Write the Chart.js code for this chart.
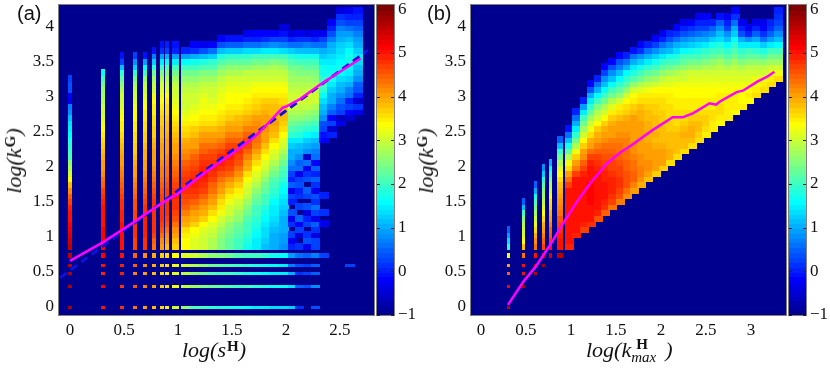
<!DOCTYPE html>
<html>
<head>
<meta charset="utf-8">
<script src="https://cdn.jsdelivr.net/npm/chart.js@4/dist/chart.umd.min.js"></script>
<style>
  body { margin: 0; background: #fff; width: 830px; height: 368px; overflow: hidden; position: relative; }
  canvas { position: absolute; top: 0; }
  .label { position: absolute; white-space: nowrap; font: italic 22px "Liberation Serif", serif; color: #111; }
  .label sup { font: bold 15px "Liberation Serif", serif; vertical-align: baseline; position: relative; top: -6px; line-height: 0; margin-left: 1px; }
  .label .pair { display: inline-block; position: relative; width: 34px; height: 1px; }
  .label .pair b { position: absolute; left: 5px; top: -20px; font: bold 15px "Liberation Serif", serif; }
  .label .pair i { position: absolute; left: 0; top: -7px; font: italic 15px "Liberation Serif", serif; }
  .panel { position: absolute; font: 20px "Liberation Sans", sans-serif; color: #111; }
  .rot { transform: translate(-50%, -50%) rotate(-90deg); }
</style>
</head>
<body>
<canvas id="heatA" width="375" height="368" style="left:0"></canvas>
<canvas id="heatB" width="375" height="368" style="left:412px"></canvas>
<canvas id="barA" width="66" height="368" style="left:376px"></canvas>
<canvas id="barB" width="66" height="368" style="left:788px"></canvas>
<div class="panel" style="left:17px;top:2px">(a)</div>
<div class="panel" style="left:427px;top:2px">(b)</div>
<div class="label" style="left:182px;top:337px">log(s<sup>H</sup>)</div>
<div class="label" style="left:586px;top:337px">log(k<span class="pair"><b>H</b><i>max</i></span>)</div>
<div class="label rot" style="left:14px;top:161px">log(k<sup>G</sup>)</div>
<div class="label rot" style="left:426px;top:161px">log(k<sup>G</sup>)</div>
<script>
const xTicksA = [0, 0.5, 1, 1.5, 2, 2.5];
const xTicksB = [0, 0.5, 1, 1.5, 2, 2.5, 3];
const yTicks = [0, 0.5, 1, 1.5, 2, 2.5, 3, 3.5, 4];
const barTicks = [-1, 0, 1, 2, 3, 4, 5, 6];

// colourbar steps
const barLevels = [-0.94, -0.83, -0.72, -0.61, -0.5, -0.39, -0.28, -0.17, -0.06, 0.05, 0.16, 0.28, 0.39, 0.5, 0.61, 0.72,
  0.83, 0.94, 1.05, 1.16, 1.27, 1.38, 1.49, 1.61, 1.72, 1.83, 1.94, 2.05, 2.16, 2.27, 2.38, 2.49,
  2.6, 2.72, 2.83, 2.94, 3.05, 3.16, 3.27, 3.38, 3.49, 3.6, 3.71, 3.82, 3.94, 4.05, 4.16, 4.27,
  4.38, 4.49, 4.6, 4.71, 4.82, 4.93, 5.05, 5.16, 5.27, 5.38, 5.49, 5.6, 5.71, 5.82, 5.93, 6.05];

// y of the heat rows, upper part of both panels
const yRows = [0.87, 0.95, 1.03, 1.11, 1.19, 1.27, 1.35, 1.43, 1.51, 1.59, 1.67, 1.75, 1.83, 1.91, 1.99, 2.07, 2.15, 2.23, 2.31, 2.39, 2.47, 2.55,
  2.63, 2.71, 2.79, 2.87, 2.95, 3.03, 3.11, 3.19, 3.27, 3.35, 3.43, 3.51, 3.59, 3.67, 3.75, 3.83, 3.91, 3.99, 4.07, 4.15, 4.23];
const lowRowY = [0, 0.3, 0.48, 0.6, 0.735];
const lowRowH = [0.043, 0.043, 0.043, 0.043, 0.072];

// panel (a): x bins, first row index of each column, values x10 (log count), bottom to top
const xBinsA = [[-0.018, 0.018], [0.283, 0.319], [0.46, 0.495], [0.585, 0.62], [0.68, 0.715], [0.76, 0.795], [0.83, 0.865], [0.885, 0.92], [0.944, 1.006],
  [1.034, 1.116], [1.116, 1.198], [1.198, 1.28], [1.28, 1.362], [1.362, 1.444], [1.444, 1.526], [1.526, 1.608], [1.608, 1.69], [1.69, 1.772], [1.772, 1.854], [1.854, 1.938], [1.938, 2.02],
  [2.02, 2.092], [2.092, 2.165], [2.165, 2.238], [2.238, 2.31], [2.31, 2.39], [2.39, 2.47], [2.47, 2.55], [2.55, 2.63], [2.63, 2.71]];
const startA = [0, 0, 0, 0, 0, 0, 0, 0, 0, 0, 0, 0, 0, 0, 0, 0, 0, 0, 0, 0, 0, 0, 0, 0, 0, 4, 20, 22, 23, 24];
const heatA = [
  [56, 55, 54, 53, 52, 51, 50, 49, 47, 45, 42, 38, 34, 30, 28, 26, 22, 20, 19, 18, 16, 15, 14, 12, 8, 7, -3, -2, 4, 4, 3],
  [52, 52, 52, 52, 51, 51, 50, 50, 49, 48, 47, 45, 44, 42, 41, 40, 39, 38, 37, 36, 35, 34, 33, 32, 31, 30, 28, 27, 26, 24, 21, 16],
  [50, 50, 50, 50, 50, 49, 49, 48, 48, 47, 46, 45, 44, 43, 42, 41, 40, 39, 38, 37, 36, 35, 35, 34, 33, 32, 31, 30, 28, 26, 23, 19, 12, 3, -1],
  [47, 47, 48, 48, 48, 47, 47, 46, 46, 45, 44, 43, 42, 41, 40, 39, 38, 37, 37, 36, 36, 35, 35, 34, 34, 33, 32, 31, 29, 27, 24, 19, 13, 8, 3],
  [48, 48, 49, 49, 49, 49, 48, 48, 47, 46, 45, 44, 43, 42, 41, 40, 39, 39, 38, 37, 37, 36, 36, 35, 35, 34, 33, 32, 31, 29, 26, 21, 16, 9, -1],
  [44, 45, 47, 48, 48, 48, 48, 48, 48, 47, 46, 45, 44, 43, 42, 41, 40, 40, 39, 38, 37, 37, 36, 36, 35, 35, 34, 33, 31, 29, 27, 24, 19, 13, 7, -1],
  [41, 42, 44, 46, 47, 48, 48, 48, 47, 47, 46, 45, 44, 43, 43, 42, 41, 40, 40, 39, 38, 38, 37, 37, 36, 35, 34, 33, 32, 30, 28, 25, 21, 15, 9, 2, -1],
  [38, 40, 42, 44, 46, 47, 48, 48, 48, 47, 47, 46, 45, 44, 44, 43, 42, 41, 40, 40, 39, 38, 38, 37, 36, 36, 35, 34, 32, 30, 28, 25, 22, 16, 10, 3, 0],
  [37, 38, 40, 42, 44, 46, 47, 48, 48, 49, 48, 47, 46, 45, 44, 43, 42, 41, 40, 39, 38, 37, 36, 35, 34, 33, 32, 31, 30, 29, 27, 24, 21, 15, 9, 1, -1],
  [34, 34, 35, 36, 39, 41, 43, 45, 46, 47, 48, 48, 48, 47, 46, 45, 43, 42, 40, 39, 37, 36, 35, 33, 32, 31, 31, 30, 29, 28, 26, 24, 20, 16, 9, 1],
  [32, 32, 33, 34, 37, 39, 41, 43, 45, 47, 48, 49, 49, 48, 47, 46, 45, 43, 41, 40, 38, 37, 35, 34, 33, 32, 31, 30, 29, 28, 26, 24, 21, 17, 10, 2, -2],
  [30, 30, 31, 32, 34, 37, 39, 41, 43, 45, 47, 48, 49, 50, 49, 48, 47, 45, 44, 42, 40, 38, 36, 35, 34, 33, 33, 32, 30, 29, 27, 25, 22, 18, 12, 4, -3],
  [28, 28, 29, 30, 32, 34, 36, 38, 40, 42, 44, 45, 47, 48, 49, 48, 47, 46, 44, 42, 40, 38, 36, 35, 34, 33, 32, 31, 30, 29, 27, 25, 22, 19, 13, 6, -2],
  [25, 25, 26, 27, 29, 31, 33, 35, 36, 38, 40, 42, 44, 46, 48, 49, 49, 47, 45, 43, 41, 39, 37, 36, 35, 34, 33, 33, 32, 31, 29, 27, 25, 22, 18, 12, 4, -2],
  [23, 23, 24, 25, 26, 28, 30, 31, 33, 35, 37, 39, 42, 45, 47, 48, 49, 49, 47, 45, 43, 41, 39, 37, 36, 35, 34, 34, 33, 32, 30, 28, 26, 23, 19, 13, 5, -1],
  [20, 21, 22, 23, 24, 26, 27, 29, 31, 33, 35, 37, 39, 42, 44, 46, 47, 48, 47, 45, 43, 41, 39, 38, 36, 35, 34, 34, 33, 32, 30, 28, 26, 23, 19, 13, 5, -1],
  [17, 18, 19, 20, 21, 22, 24, 25, 27, 29, 31, 32, 34, 36, 39, 41, 43, 45, 47, 47, 45, 43, 41, 39, 37, 36, 35, 34, 33, 32, 31, 29, 26, 23, 19, 14, 6, 0, -3],
  [15, 15, 16, 17, 18, 19, 20, 21, 23, 24, 26, 28, 30, 32, 34, 36, 38, 41, 43, 44, 44, 43, 42, 40, 38, 37, 36, 35, 34, 33, 31, 29, 27, 24, 20, 14, 6, 1, -2],
  [12, 13, 14, 14, 15, 16, 17, 18, 20, 21, 23, 24, 26, 28, 30, 32, 34, 36, 38, 40, 41, 42, 41, 40, 39, 38, 37, 35, 34, 33, 31, 29, 27, 24, 20, 15, 7, 2, -2],
  [10, 11, 11, 12, 13, 14, 15, 15, 16, 18, 19, 21, 22, 24, 26, 28, 30, 32, 34, 36, 38, 39, 40, 39, 38, 38, 37, 35, 34, 33, 31, 29, 28, 25, 20, 15, 8, 3, -2],
  [8, 9, 9, 10, 11, 11, 12, 13, 14, 15, 16, 17, 19, 20, 22, 24, 26, 28, 30, 32, 34, 36, 37, 38, 38, 37, 36, 35, 34, 33, 31, 29, 27, 24, 20, 14, 7, 3, -1, -4],
  [0, -3, 3, -10, 2, -3, 4, -10, 1, 3, -3, 5, 1, 3, 6, 8, 10, 11, 13, 15, 19, 22, 24, 26, 28, 30, 30, 30, 29, 28, 27, 26, 24, 22, 18, 13, 6, 1, -4],
  [2, -10, -4, 3, -2, 5, -10, 3, -10, 2, 0, 4, 3, -3, 6, 5, 8, 11, 12, 15, 18, 21, 23, 26, 28, 29, 30, 30, 29, 28, 27, 25, 24, 21, 17, 12, 6, 2, -3],
  [-3, 4, 2, -10, 3, 1, -4, 4, -10, 3, 5, -10, 4, 2, -3, 6, -5, 8, 11, 13, 16, 19, 22, 25, 27, 29, 30, 30, 29, 28, 27, 25, 23, 21, 17, 12, 7, 2, -4],
  [3, 3, -4, 2, 5, -3, 3, 6, 2, 4, -3, 2, 5, 1, 5, -2, 6, 7, 9, 12, 15, 18, 21, 24, 26, 28, 30, 30, 29, 28, 26, 25, 23, 21, 17, 12, 6, 1, -3],
  [-3, -10, 2, -10, -10, 1, -10, -10, -10, -10, -10, -10, -10, -10, -10, -2, -1, 3, 4, 8, 10, 12, 14, 16, 19, 20, 19, 17, 17, 15, 13, 10, 6, 3, -3],
  [0, -5, 3, -2, 5, 7, 10, 11, 13, 15, 17, 17, 16, 15, 14, 12, 10, 7, 4, 1, -2],
  [-3, -6, 3, 4, 6, 8, 10, 12, 14, 16, 17, 16, 15, 14, 13, 11, 9, 7, 4, 2, -4],
  [-5, -2, 3, 1, 6, 7, 10, 13, 15, 16, 17, 17, 16, 14, 12, 9, 6, 3, 0, -3],
  [-3, 2, -5, 1, 4, 5, 8, 10, 12, 14, 15, 13, 11, 9, 7, 5, 3, 1, -1]
];
const lowA = [
  [57, 50, 48, 44, 40, 38, 36, 35, 31, 26, 22, 20, 19, 18, 18, 17, 16, 15, 15, 14, 14, 13, 2, -10, 4],
  [57, 52, 48, 46, 43, 40, 37, 36, 33, 29, 27, 25, 24, 23, 22, 21, 20, 19, 18, 17, 16, 14, 5, 4, 8],
  [57, 49, 49, 43, 41, 38, 36, 35, 32, 29, 26, 24, 22, 21, 20, 19, 18, 17, 16, 15, 15, 11, 2, 3, 5],
  [56, 50, 49, 45, 42, 39, 37, 36, 33, 31, 28, 26, 24, 23, 22, 21, 19, 18, 17, 16, 15, 7, 4, 3, 5, -10, -10, -10, 3],
  [56, 52, 50, 45, 42, 39, 37, 36, 34, 32, 30, 28, 26, 25, 24, 22, 21, 20, 19, 17, 16, 9, 6, 5, 7, 3]
];
const lineAx = [0, 0.3, 0.48, 0.6, 0.7, 0.78, 0.85, 0.9, 1, 1.2, 1.325, 1.5, 1.71, 1.82, 1.97, 2.01, 2.13, 2.31, 2.5, 2.69];
const lineAy = [0.66, 0.92, 1.1, 1.22, 1.33, 1.41, 1.48, 1.53, 1.62, 1.86, 2, 2.19, 2.43, 2.6, 2.85, 2.87, 2.97, 3.17, 3.36, 3.55];
const dashAx = [-0.09, 2.76];
const dashAy = [0.42, 3.67];

// panel (b)
const xBinsB = [[0.283, 0.319], [0.46, 0.495], [0.585, 0.62], [0.68, 0.715], [0.76, 0.795], [0.84, 0.905],
  [0.945, 1.025], [1.025, 1.105], [1.105, 1.185], [1.185, 1.265], [1.265, 1.345], [1.345, 1.425], [1.425, 1.505], [1.505, 1.585], [1.585, 1.665], [1.665, 1.745],
  [1.745, 1.825], [1.825, 1.905], [1.905, 1.985], [1.985, 2.065], [2.065, 2.145], [2.145, 2.225], [2.225, 2.305], [2.305, 2.385], [2.385, 2.465], [2.465, 2.545],
  [2.545, 2.625], [2.625, 2.705], [2.705, 2.785], [2.785, 2.865], [2.865, 2.945], [2.945, 3.025], [3.025, 3.105], [3.105, 3.185], [3.185, 3.265], [3.265, 3.345]];
const startB = [0, 0, 0, 0, 0, 0, 0, 2, 3, 4, 5, 6, 7, 8, 9, 10, 11, 12, 13, 14, 15, 16, 17, 18, 19, 20, 21, 22, 23, 24, 25, 26, 27, 28, 29, 30];
const heatB = [
  [19, 14, 9, 5],
  [38, 34, 32, 30, 28, 25, 20, 12, 5],
  [44, 42, 39, 36, 33, 30, 27, 24, 20, 17, 11, 5],
  [47, 45, 43, 41, 39, 36, 34, 32, 29, 27, 25, 22, 18, 13, 8],
  [50, 48, 46, 45, 43, 41, 39, 37, 36, 34, 31, 28, 25, 21, 16, 10],
  [50, 50, 49, 48, 47, 46, 44, 43, 42, 41, 39, 38, 36, 34, 32, 28, 24, 19, 12, 5],
  [49, 50, 50, 51, 51, 51, 51, 51, 51, 50, 50, 47, 44, 40, 36, 33, 28, 23, 17, 12, 6, -1],
  [49, 50, 50, 51, 51, 51, 51, 51, 51, 51, 50, 47, 43, 40, 37, 33, 28, 24, 19, 15, 10, 6, 0],
  [47, 49, 50, 50, 51, 51, 51, 51, 50, 50, 49, 47, 45, 42, 40, 37, 34, 31, 27, 24, 20, 15, 9, 1],
  [48, 50, 51, 51, 52, 52, 52, 52, 51, 51, 50, 49, 47, 44, 41, 39, 36, 33, 30, 27, 23, 19, 15, 10, 4, -2],
  [46, 49, 50, 50, 51, 51, 50, 50, 50, 49, 48, 47, 45, 43, 41, 39, 37, 34, 31, 28, 25, 20, 16, 11, 6, 0],
  [45, 48, 49, 50, 50, 50, 49, 49, 48, 47, 46, 45, 44, 42, 40, 39, 37, 34, 31, 28, 24, 20, 16, 12, 8, 3, -2],
  [44, 47, 48, 49, 49, 49, 48, 47, 47, 46, 45, 44, 43, 41, 40, 39, 37, 35, 32, 28, 24, 20, 16, 12, 8, 4, -2],
  [43, 46, 47, 48, 48, 47, 47, 46, 45, 44, 44, 43, 42, 41, 40, 38, 36, 35, 31, 26, 23, 19, 16, 12, 7, 4, -2],
  [42, 44, 46, 46, 46, 45, 45, 44, 44, 43, 43, 42, 41, 40, 39, 37, 36, 34, 30, 26, 22, 19, 16, 11, 6, 0],
  [40, 43, 45, 45, 44, 44, 43, 42, 42, 41, 41, 41, 40, 40, 38, 37, 35, 34, 30, 26, 22, 18, 15, 10, 6, -1],
  [39, 42, 43, 43, 42, 42, 41, 41, 40, 40, 40, 40, 39, 39, 38, 36, 35, 32, 28, 24, 20, 17, 13, 8, 2, -2],
  [38, 41, 42, 42, 41, 40, 40, 39, 39, 39, 39, 38, 38, 37, 36, 35, 33, 29, 26, 23, 19, 15, 11, 6, 0],
  [37, 40, 41, 41, 40, 39, 38, 39, 38, 38, 38, 37, 37, 36, 35, 34, 31, 27, 24, 21, 17, 13, 8, 3, -2],
  [37, 40, 40, 40, 39, 38, 38, 38, 37, 37, 37, 36, 36, 35, 34, 32, 29, 26, 23, 19, 15, 10, 6, 1, -3],
  [36, 39, 39, 38, 38, 38, 37, 37, 36, 36, 36, 35, 35, 34, 32, 30, 27, 24, 20, 17, 12, 8, 4, 0],
  [36, 38, 38, 38, 38, 37, 36, 36, 36, 35, 35, 34, 34, 33, 31, 28, 25, 21, 18, 14, 10, 6, 2, -2],
  [36, 38, 38, 39, 38, 37, 36, 36, 35, 35, 34, 34, 33, 31, 29, 26, 23, 20, 16, 12, 8, 4, 1, -3],
  [36, 38, 39, 39, 38, 37, 36, 35, 35, 34, 34, 33, 32, 30, 27, 24, 21, 17, 13, 9, 5, 2, -2],
  [36, 37, 38, 38, 37, 36, 35, 35, 34, 34, 33, 32, 30, 27, 24, 21, 18, 14, 10, 6, 3, 0, -3],
  [35, 36, 37, 37, 36, 35, 35, 34, 34, 33, 32, 30, 28, 25, 22, 19, 15, 11, 7, 3, 0, -2],
  [35, 35, 36, 36, 35, 35, 34, 34, 33, 32, 30, 28, 26, 23, 20, 17, 13, 8, 5, 0],
  [34, 35, 36, 36, 35, 35, 34, 33, 32, 31, 29, 27, 24, 21, 18, 14, 12, 8, 5, -1],
  [35, 35, 35, 35, 35, 34, 33, 32, 30, 28, 25, 22, 19, 16, 12, 8, 3, 0, -3],
  [34, 35, 35, 35, 34, 33, 32, 31, 29, 27, 24, 22, 19, 16, 13, 10, 6, 2, -2],
  [35, 34, 34, 34, 33, 32, 31, 28, 25, 22, 19, 15, 10, 4, 0, -3],
  [34, 35, 34, 33, 32, 31, 29, 26, 23, 20, 15, 8, 1, -3],
  [36, 35, 34, 33, 31, 29, 26, 23, 19, 15, 10, 5, 0, -3],
  [36, 35, 33, 31, 29, 26, 22, 18, 13, 6, 2, -2, -3],
  [36, 35, 32, 30, 27, 24, 20, 15, 9, 5, 2, 0],
  [36, 33, 30, 27, 24, 20, 16, 12, 8, 5, 3, 2, 0]
];
const lowB = [
  [56],
  [52, 57],
  [45, 50, 56],
  [40, 51, 55, 57],
  [33, 44, 51, 55, 55, 56]
];
const lineBx = [0.3, 0.47, 0.61, 0.79, 0.91, 1.07, 1.21, 1.4, 1.54, 1.66, 1.91, 2.13, 2.24, 2.36, 2.54, 2.61, 2.66, 2.84, 2.91, 3.07, 3.18, 3.26];
const lineBy = [0.03, 0.36, 0.58, 0.93, 1.19, 1.51, 1.76, 2.05, 2.2, 2.3, 2.53, 2.71, 2.71, 2.77, 2.91, 2.89, 2.94, 3.07, 3.09, 3.22, 3.29, 3.36];

Chart.defaults.font.family = '"Liberation Serif", serif';

const tickFont = { family: '"Liberation Serif", serif', size: 17 };
const tickColor = "#111";
const frameColor = "#808080";

// MATLAB jet with 64 steps, -1 to 6.1
function jet(v) {
  const idx = Math.min(63, Math.max(0, Math.floor(((v + 1) / 7.1) * 64)));
  const t = (idx + 1) / 64;
  const c = (x) => Math.round(255 * Math.min(1, Math.max(0, x)));
  const r = c(Math.min(4 * t - 1.5, -4 * t + 4.5));
  const g = c(Math.min(4 * t - 0.5, -4 * t + 3.5));
  const b = c(Math.min(4 * t + 0.5, -4 * t + 2.5));
  return `rgb(${r},${g},${b})`;
}

const cellImages = {};

function cellImage(color, w, h) {
  const key = `${color}|${w}|${h}`;
  if (!cellImages[key]) {
    const c = document.createElement("canvas");
    c.width = w;
    c.height = h;
    const g = c.getContext("2d");
    g.fillStyle = color;
    g.fillRect(0, 0, w, h);
    cellImages[key] = c;
  }
  return cellImages[key];
}

// scripted point style: every cell is a point, sized from the scales
function cellStyle(ctx) {
  const cell = ctx.raw;
  if (!cell) {
    return "rect";
  }
  const { x, y } = ctx.chart.scales;
  const w = Math.abs(x.getPixelForValue(cell.x + cell.w / 2) - x.getPixelForValue(cell.x - cell.w / 2));
  const h = Math.abs(y.getPixelForValue(cell.y + cell.h / 2) - y.getPixelForValue(cell.y - cell.h / 2));
  const pw = w > 7 ? Math.ceil(w) + 1 : Math.round(w);
  const ph = h > 5.5 ? Math.ceil(h) + 1 : Math.round(h);
  return cellImage(jet(cell.v), pw, ph);
}

function buildCells(bins, starts, cols, lows) {
  const cells = [];
  cols.forEach((col, c) => {
    const [lo, hi] = bins[c];
    col.forEach((v, i) => {
      if (v > -10) {
        cells.push({ x: (lo + hi) / 2, y: yRows[starts[c] + i], v: v / 10, w: hi - lo, h: 0.08 });
      }
    });
  });
  lows.forEach((row, r) => {
    row.forEach((v, c) => {
      if (v > -10) {
        const [lo, hi] = bins[c];
        cells.push({ x: (lo + hi) / 2, y: lowRowY[r], v: v / 10, w: hi - lo, h: lowRowH[r] });
      }
    });
  });
  return cells;
}

const framePlugin = {
  id: "frame",
  beforeDatasetsDraw(chart) {
    const { ctx, chartArea: a } = chart;
    ctx.imageSmoothingEnabled = false;
    ctx.save();
    ctx.fillStyle = jet(-1);
    ctx.fillRect(a.left, a.top, a.right - a.left, a.bottom - a.top);
    ctx.restore();
  },
  afterDatasetsDraw(chart) {
    const { ctx, chartArea: a } = chart;
    ctx.save();
    ctx.strokeStyle = frameColor;
    ctx.lineWidth = 1;
    ctx.strokeRect(a.left - 0.5, a.top - 0.5, a.right - a.left + 1, a.bottom - a.top + 1);
    ctx.restore();
  },
};

const barTickPlugin = {
  id: "barTicks",
  afterDatasetsDraw(chart) {
    const { ctx, chartArea: a, scales } = chart;
    ctx.save();
    ctx.strokeStyle = "#222";
    ctx.lineWidth = 1;
    barTicks.forEach((v) => {
      const py = Math.round(scales.y.getPixelForValue(v)) + 0.5;
      ctx.beginPath();
      ctx.moveTo(a.left, py);
      ctx.lineTo(a.left + 3, py);
      ctx.moveTo(a.right - 3, py);
      ctx.lineTo(a.right, py);
      ctx.stroke();
    });
    ctx.restore();
  },
};

function xyPoints(xs, ys) {
  return xs.map((x, i) => ({ x, y: ys[i] }));
}

function heatChart(id, opts) {
  const datasets = [];
  datasets.push({
    label: "mean",
    data: xyPoints(opts.lineX, opts.lineY),
    showLine: true,
    borderColor: "#ff00ff",
    borderWidth: 2.5,
    pointRadius: 0,
    order: 1,
  });
  if (opts.dashX) {
    datasets.push({
      label: "fit",
      data: xyPoints(opts.dashX, opts.dashY),
      showLine: true,
      borderColor: "#1010e0",
      borderWidth: 3,
      borderDash: [8, 5],
      pointRadius: 0,
      order: 2,
    });
  }
  datasets.push({
    label: "counts",
    data: opts.cells,
    pointStyle: cellStyle,
    pointRadius: 3,
    order: 3,
  });

  return new Chart(document.getElementById(id), {
    type: "scatter",
    data: { datasets },
    plugins: [framePlugin],
    options: {
      responsive: false,
      animation: false,
      events: [],
      layout: { autoPadding: false, padding: { top: 5, right: 1 } },
      plugins: { legend: { display: false }, tooltip: { enabled: false } },
      scales: {
        x: {
          type: "linear",
          min: opts.xMin,
          max: opts.xMax,
          grid: { display: false, drawTicks: false },
          border: { display: false },
          afterFit: (s) => { s.height = 53; s.paddingLeft = 0; s.paddingRight = 0; },
          afterBuildTicks: (s) => { s.ticks = opts.xTicks.map((value) => ({ value })); },
          ticks: {
            font: tickFont,
            color: tickColor,
            padding: 5,
            maxRotation: 0,
            autoSkip: false,
            callback: (v) => String(v),
          },
        },
        y: {
          type: "linear",
          min: -0.114,
          max: 4.314,
          grid: { display: false, drawTicks: false },
          border: { display: false },
          afterFit: (s) => { s.width = 59; s.paddingTop = 0; s.paddingBottom = 0; },
          afterBuildTicks: (s) => { s.ticks = yTicks.map((value) => ({ value })); },
          ticks: {
            font: tickFont,
            color: tickColor,
            padding: 5,
            autoSkip: false,
            callback: (v) => String(v),
          },
        },
      },
    },
  });
}

function colorBar(id) {
  const cells = barLevels.map((v) => ({ x: 0.5, y: v, v, w: 1, h: 0.13 }));
  return new Chart(document.getElementById(id), {
    type: "scatter",
    data: { datasets: [{ label: "scale", data: cells, pointStyle: cellStyle, pointRadius: 3 }] },
    plugins: [framePlugin, barTickPlugin],
    options: {
      responsive: false,
      animation: false,
      events: [],
      layout: { autoPadding: false, padding: { top: 5, bottom: 53, left: 1 } },
      plugins: { legend: { display: false }, tooltip: { enabled: false } },
      scales: {
        x: { type: "linear", min: 0, max: 1, display: false },
        y: {
          type: "linear",
          position: "right",
          min: -1,
          max: 6.1,
          grid: { display: false, drawTicks: false },
          border: { display: false },
          afterFit: (s) => { s.width = 48; s.paddingTop = 0; s.paddingBottom = 0; },
          afterBuildTicks: (s) => { s.ticks = barTicks.map((value) => ({ value })); },
          ticks: {
            font: tickFont,
            color: tickColor,
            padding: 4,
            autoSkip: false,
            callback: (v) => String(v).replace("-", "\u2212"),
          },
        },
      },
    },
  });
}

heatChart("heatA", {
  cells: buildCells(xBinsA, startA, heatA, lowA),
  xMin: -0.102,
  xMax: 2.815,
  xTicks: xTicksA,
  lineX: lineAx,
  lineY: lineAy,
  dashX: dashAx,
  dashY: dashAy,
});
heatChart("heatB", {
  cells: buildCells(xBinsB, startB, heatB, lowB),
  xMin: -0.111,
  xMax: 3.389,
  xTicks: xTicksB,
  lineX: lineBx,
  lineY: lineBy,
});
colorBar("barA");
colorBar("barB");
</script>
</body>
</html>
